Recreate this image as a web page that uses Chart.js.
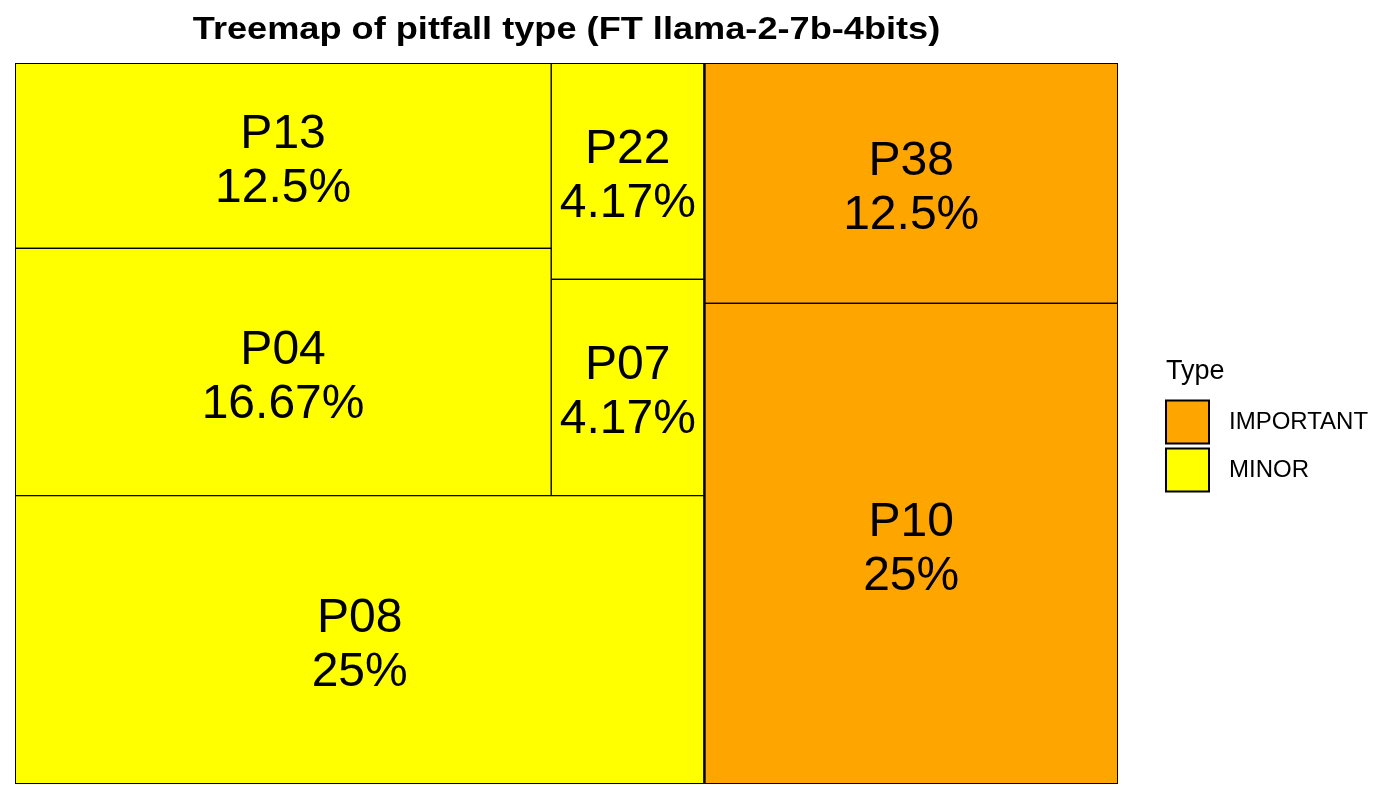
<!DOCTYPE html>
<html><head><meta charset="utf-8">
<script src="https://cdn.jsdelivr.net/npm/chart.js@4/dist/chart.umd.min.js"></script>
<style>html,body{margin:0;padding:0;background:#fff}#wrap{width:1400px;height:800px;position:relative}</style>
</head><body><div id="wrap"><canvas id="c" width="1400" height="800"></canvas></div>
<script>
// ---- data ----
const chartTitle = 'Treemap of pitfall type (FT llama-2-7b-4bits)';
const pitfalls = ['P10', 'P38', 'P08', 'P04', 'P13', 'P07', 'P22'];
const shares   = [25, 12.5, 25, 16.67, 12.5, 4.17, 4.17];
const types    = ['IMPORTANT', 'IMPORTANT', 'MINOR', 'MINOR', 'MINOR', 'MINOR', 'MINOR'];
const typeNames  = ['IMPORTANT', 'MINOR'];
const typeColors = ['#FFA500', '#FFFF00'];
const legendTitle = 'Type';

// ---- squarified treemap layout in unit coordinates (y grows upward) ----
function squarify(items, rect) {
  const total = items.reduce((s, it) => s + it.value, 0);
  const k = rect.w * rect.h / total;
  const out = [];
  let r = Object.assign({}, rect);
  let rest = items.slice().sort((a, b) => b.value - a.value);
  const worst = (row, side) => {
    const s = row.reduce((t, it) => t + it.value * k, 0);
    let w = 0;
    row.forEach(it => {
      const a = it.value * k;
      w = Math.max(w, side * side * a / (s * s), s * s / (side * side * a));
    });
    return w;
  };
  while (rest.length) {
    const horizontal = r.w < r.h;
    const side = horizontal ? r.w : r.h;
    const row = [rest[0]];
    let i = 1;
    while (i < rest.length && worst(row.concat([rest[i]]), side) <= worst(row, side)) { row.push(rest[i]); i++; }
    const s = row.reduce((t, it) => t + it.value * k, 0);
    if (horizontal) {
      const th = s / r.w; let x = r.x;
      row.forEach(it => { const w = it.value * k / th; out.push({item: it, x0: x, x1: x + w, y0: r.y, y1: r.y + th}); x += w; });
      r.y += th; r.h -= th;
    } else {
      const tw = s / r.h; let y = r.y;
      row.forEach(it => { const h = it.value * k / tw; out.push({item: it, x0: r.x, x1: r.x + tw, y0: y, y1: y + h}); y += h; });
      r.x += tw; r.w -= tw;
    }
    rest = rest.slice(row.length);
  }
  return out;
}

const groups = typeNames.map((t, gi) => ({
  name: t, color: typeColors[gi],
  value: shares.reduce((s, v, i) => s + (types[i] === t ? v : 0), 0),
  children: pitfalls.map((p, i) => ({name: p, value: shares[i], type: types[i]})).filter(c => c.type === t)
}));
const groupRects = squarify(groups, {x: 0, y: 0, w: 1, h: 1});
const leafRects = [];
groupRects.forEach(g => {
  squarify(g.item.children, {x: g.x0, y: g.y0, w: g.x1 - g.x0, h: g.y1 - g.y0})
    .forEach(l => leafRects.push(Object.assign(l, {color: g.item.color})));
});

const box = r => [{x: r.x0, y: r.y0}, {x: r.x1, y: r.y0}, {x: r.x1, y: r.y1}, {x: r.x0, y: r.y1}, {x: r.x0, y: r.y0}];

const datasets = [];
groupRects.forEach(g => datasets.push({
  label: g.item.name + ' outline', data: box(g), fill: false, borderColor: '#000', borderWidth: 2,
  pointRadius: 0, tension: 0
}));
leafRects.forEach(l => datasets.push({
  label: l.item.name, data: box(l), fill: 'shape', backgroundColor: l.color, borderColor: '#000',
  borderWidth: 1.2, pointRadius: 0, tension: 0
}));

const font = 'Liberation Sans, Arial, Helvetica, sans-serif';

const decorations = {
  id: 'decorations',
  afterDatasetsDraw(chart) {
    const {ctx, chartArea: ca, scales: {x, y}} = chart;
    ctx.save();
    // tile labels
    ctx.fillStyle = '#000';
    ctx.textAlign = 'center';
    ctx.textBaseline = 'alphabetic';
    ctx.font = '48px ' + font;
    leafRects.forEach(l => {
      const cx = (x.getPixelForValue(l.x0) + x.getPixelForValue(l.x1)) / 2;
      const cy = (y.getPixelForValue(l.y0) + y.getPixelForValue(l.y1)) / 2;
      ctx.fillText(l.item.name, cx, cy - 8);
      ctx.fillText(l.item.value + '%', cx, cy + 46);
    });
    // title (wide bold face)
    ctx.save();
    ctx.translate((ca.left + ca.right) / 2, ca.top - 24.5);
    ctx.scale(1.13, 1);
    ctx.font = 'bold 32px ' + font;
    ctx.fillText(chartTitle, 0, 0);
    ctx.restore();
    // legend
    const lx = ca.right + 47;
    const my = (ca.top + ca.bottom) / 2;
    ctx.textAlign = 'left';
    ctx.font = '27px ' + font;
    ctx.fillText(legendTitle, lx + 1, my - 45);
    ctx.font = '24px ' + font;
    ctx.textBaseline = 'middle';
    typeNames.forEach((t, i) => {
      const top = my - 24 + i * 48;
      ctx.fillStyle = typeColors[i];
      ctx.fillRect(lx + 1, top + 1, 43, 43);
      ctx.strokeStyle = '#000';
      ctx.lineWidth = 2;
      ctx.strokeRect(lx + 1, top + 1, 43, 43);
      ctx.fillStyle = '#000';
      ctx.fillText(t, lx + 64, top + 23);
    });
    ctx.restore();
  }
};

new Chart(document.getElementById('c'), {
  type: 'line',
  data: {datasets},
  options: {
    responsive: false,
    animation: false,
    events: [],
    layout: {padding: {left: 15, right: 282, top: 63, bottom: 16}},
    scales: {
      x: {type: 'linear', min: 0, max: 1, display: false},
      y: {type: 'linear', min: 0, max: 1, display: false}
    },
    plugins: {legend: {display: false}, tooltip: {enabled: false}, title: {display: false}}
  },
  plugins: [decorations]
});
</script>
</body></html>
